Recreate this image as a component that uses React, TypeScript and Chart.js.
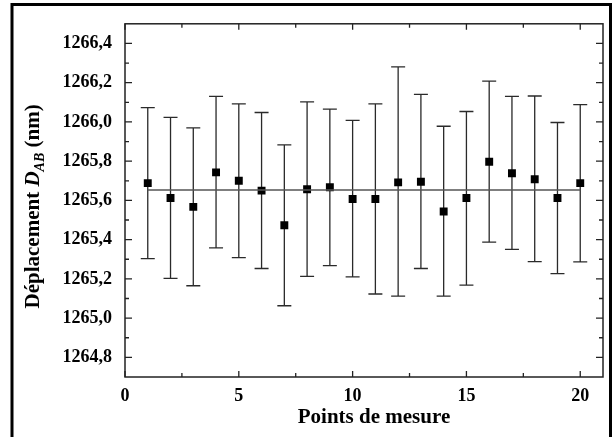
import React, { useEffect, useRef } from "react";
import { Chart, registerables } from "chart.js";

Chart.register(...registerables);

// ---- data ----
const pointIndex = [1, 2, 3, 4, 5, 6, 7, 8, 9, 10, 11, 12, 13, 14, 15, 16, 17, 18, 19, 20];
const displacement = [
  1265.688, 1265.612, 1265.567, 1265.743, 1265.700, 1265.650, 1265.473, 1265.657, 1265.667, 1265.607,
  1265.607, 1265.692, 1265.695, 1265.543, 1265.612, 1265.797, 1265.738, 1265.708, 1265.612, 1265.688,
];
const errorUpper = [
  1266.073, 1266.023, 1265.970, 1266.130, 1266.092, 1266.048, 1265.883, 1266.102, 1266.065, 1266.008,
  1266.092, 1266.280, 1266.140, 1265.978, 1266.053, 1266.208, 1266.130, 1266.132, 1265.997, 1266.088,
];
const errorLower = [
  1265.303, 1265.203, 1265.165, 1265.358, 1265.308, 1265.253, 1265.063, 1265.213, 1265.268, 1265.210,
  1265.123, 1265.112, 1265.253, 1265.112, 1265.168, 1265.387, 1265.350, 1265.288, 1265.227, 1265.287,
];
const meanValue = 1265.653;
const meanRange = [1, 20];

const xMajorTicks = [0, 5, 10, 15, 20];
const xMinorTicks = [2.5, 7.5, 12.5, 17.5];
const yMajorTicks = [1264.8, 1265.0, 1265.2, 1265.4, 1265.6, 1265.8, 1266.0, 1266.2, 1266.4];
const yMinorTicks = [1264.9, 1265.1, 1265.3, 1265.5, 1265.7, 1265.9, 1266.1, 1266.3];

const xTitle = "Points de mesure";
const yTitleParts = ["Déplacement ", "D", "AB", " (nm)"];

const FONT = "'Liberation Serif', 'Times New Roman', serif";

export default function App() {
  const canvasRef = useRef<HTMLCanvasElement | null>(null);

  useEffect(() => {
    document.body.style.margin = "0";
    const canvas = canvasRef.current;
    if (!canvas) return;

    const decorPlugin = {
      id: "decor",
      beforeDatasetsDraw(chart: any) {
        const { ctx, scales } = chart;
        const xs = scales.x;
        const ys = scales.y;
        ctx.save();
        ctx.strokeStyle = "#2a2a2a";
        ctx.lineWidth = 1.3;
        for (let i = 0; i < pointIndex.length; i++) {
          const px = xs.getPixelForValue(pointIndex[i]);
          const pt = ys.getPixelForValue(errorUpper[i]);
          const pb = ys.getPixelForValue(errorLower[i]);
          ctx.beginPath();
          ctx.moveTo(px, pt);
          ctx.lineTo(px, pb);
          ctx.moveTo(px - 7, pt);
          ctx.lineTo(px + 7, pt);
          ctx.moveTo(px - 7, pb);
          ctx.lineTo(px + 7, pb);
          ctx.stroke();
        }
        ctx.restore();
      },
      afterDraw(chart: any) {
        const { ctx, chartArea, scales } = chart;
        const xs = scales.x;
        const ys = scales.y;
        const { left, right, top, bottom } = chartArea;
        ctx.save();
        // outer frame
        ctx.strokeStyle = "#000";
        ctx.lineWidth = 3;
        ctx.strokeRect(12, 4.5, 598.5, 460);
        // plot box
        ctx.strokeStyle = "#222";
        ctx.lineWidth = 1.5;
        ctx.strokeRect(left, top, right - left, bottom - top);
        // inner ticks
        ctx.lineWidth = 1.3;
        ctx.beginPath();
        const yTick = (v: number, len: number) => {
          const py = ys.getPixelForValue(v);
          ctx.moveTo(left, py);
          ctx.lineTo(left + len, py);
          ctx.moveTo(right, py);
          ctx.lineTo(right - len, py);
        };
        const xTick = (v: number, len: number) => {
          const px = xs.getPixelForValue(v);
          ctx.moveTo(px, bottom);
          ctx.lineTo(px, bottom - len);
          ctx.moveTo(px, top);
          ctx.lineTo(px, top + len);
        };
        yMajorTicks.forEach((v) => yTick(v, 7));
        yMinorTicks.forEach((v) => yTick(v, 4));
        xMajorTicks.forEach((v) => xTick(v, 6));
        xMinorTicks.forEach((v) => xTick(v, 4));
        ctx.stroke();

        // x-axis title
        ctx.fillStyle = "#000";
        ctx.font = `bold 21px ${FONT}`;
        ctx.textAlign = "center";
        ctx.textBaseline = "middle";
        ctx.fillText(xTitle, (left + right) / 2 + 10, 418);

        // y-axis title with italic subscript
        ctx.textAlign = "left";
        const mainFont = `bold 21px ${FONT}`;
        const italFont = `italic bold 21px ${FONT}`;
        const subFont = `italic bold 14px ${FONT}`;
        const segs = [
          { t: yTitleParts[0], f: mainFont, dy: 0 },
          { t: yTitleParts[1], f: italFont, dy: 0 },
          { t: yTitleParts[2], f: subFont, dy: 5 },
          { t: yTitleParts[3], f: mainFont, dy: 0 },
        ];
        let total = 0;
        const widths = segs.map((s) => {
          ctx.font = s.f;
          const w = ctx.measureText(s.t).width;
          total += w;
          return w;
        });
        ctx.translate(32, (top + bottom) / 2 + 6);
        ctx.rotate(-Math.PI / 2);
        ctx.textBaseline = "alphabetic";
        let cx = -total / 2;
        segs.forEach((s, i) => {
          ctx.font = s.f;
          ctx.fillText(s.t, cx, 7 + s.dy);
          cx += widths[i];
        });
        ctx.restore();
      },
    };

    const chart = new Chart(canvas, {
      type: "scatter",
      data: {
        datasets: [
          {
            type: "line",
            data: meanRange.map((x) => ({ x, y: meanValue })),
            borderColor: "#555",
            borderWidth: 1.6,
            pointRadius: 0,
            fill: false,
          } as any,
          {
            data: pointIndex.map((x, i) => ({ x, y: displacement[i] })),
            pointStyle: "rect",
            pointRadius: 5.6,
            backgroundColor: "#000",
            borderColor: "#000",
            borderWidth: 0,
          },
        ],
      },
      options: {
        responsive: false,
        animation: false,
        layout: { padding: { top: 19, right: 13, left: 0, bottom: 0 } },
        plugins: {
          legend: { display: false },
          tooltip: { enabled: false },
        },
        scales: {
          x: {
            type: "linear",
            min: 0,
            max: 21,
            afterBuildTicks: (scale: any) => {
              scale.ticks = xMajorTicks.map((v) => ({ value: v }));
            },
            afterFit: (scale: any) => {
              scale.height = 60;
            },
            grid: { display: false, drawTicks: false },
            border: { display: false },
            ticks: {
              padding: 9,
              color: "#000",
              font: { family: FONT, size: 18, weight: "bold" },
              callback: (v: any) => String(v),
            },
          },
          y: {
            type: "linear",
            min: 1264.7,
            max: 1266.5,
            afterBuildTicks: (scale: any) => {
              scale.ticks = yMajorTicks.map((v) => ({ value: v }));
            },
            afterFit: (scale: any) => {
              scale.width = 125;
            },
            grid: { display: false, drawTicks: false },
            border: { display: false },
            ticks: {
              padding: 13,
              color: "#000",
              font: { family: FONT, size: 18, weight: "bold" },
              callback: (v: any) => Number(v).toFixed(1).replace(".", ","),
            },
          },
        },
      },
      plugins: [decorPlugin],
    });

    return () => chart.destroy();
  }, []);

  return (
    <div style={{ width: 616, height: 437 }}>
      <canvas ref={canvasRef} width={616} height={437} />
    </div>
  );
}
